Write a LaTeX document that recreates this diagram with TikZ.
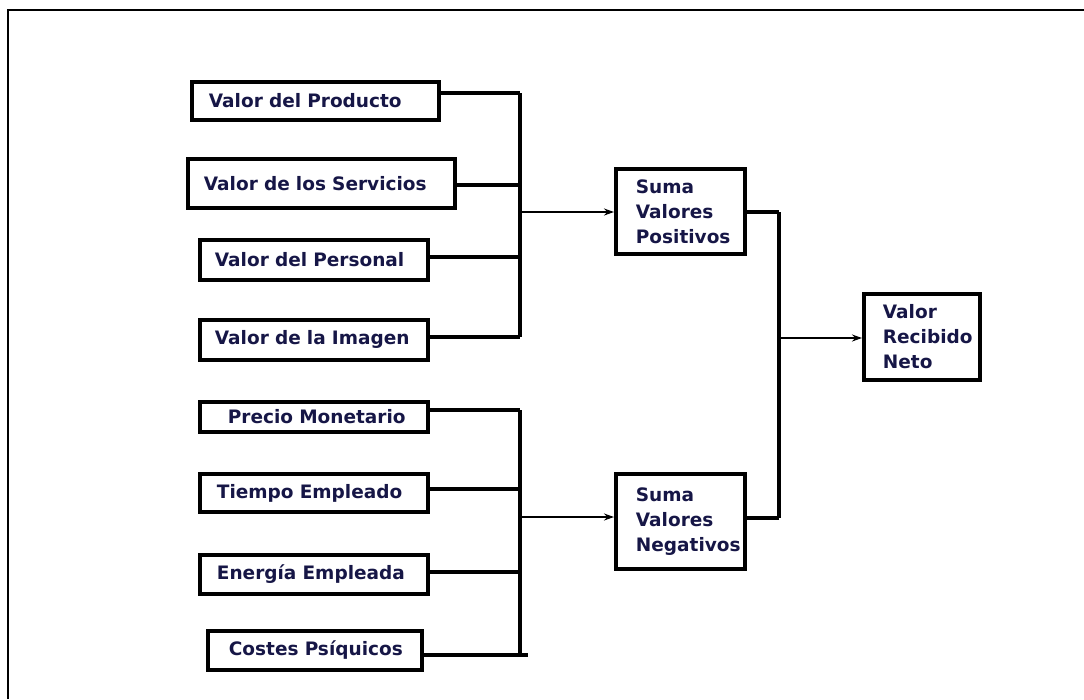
\documentclass[tikz,border=0pt]{standalone}
\usepackage{fontspec}
\setmainfont{DejaVu Sans}[BoldFont={DejaVu Sans Bold}]
\usetikzlibrary{arrows.meta}
\definecolor{txtnavy}{RGB}{22,22,70}
\begin{document}
\begin{tikzpicture}[x=1pt,y=-1pt,
  box/.style={draw, line width=3.8pt, rectangle, anchor=north west, inner ysep=0pt,
    align=left, text=txtnavy, font={\fontsize{18.5}{25}\selectfont\bfseries}},
  bus/.style={line width=4.2pt},
  link/.style={line width=3.2pt},
  arr/.style={line width=1.8pt, -{Stealth[length=10pt,width=7pt]}},
  frame/.style={line width=2.5pt}
]
\useasboundingbox (0,0) rectangle (1084,699);
% outer frame (top and left only)
\coordinate (fl) at (8,699);
\coordinate (fc) at (8,10);
\coordinate (fr) at (1084,10);
\draw[frame] (fl) -- (fc) -- (fr);

% positive inputs
\node[box, inner xsep=17pt, text width=213pt, minimum height=38pt] (p1) at (190,80) {\mbox{Valor del Producto}};
\node[box, inner xsep=16pt, text width=235pt, minimum height=49pt] (p2) at (186,157) {\mbox{Valor de los Servicios}};
\node[box, inner xsep=15pt, text width=198pt, minimum height=40pt] (p3) at (198,238) {\mbox{Valor del Personal}};
\node[box, inner xsep=15pt, text width=198pt, minimum height=40pt] (p4) at (198,318) {\mbox{Valor de la Imagen}};

% negative inputs
\node[box, inner xsep=28pt, text width=172pt, minimum height=30pt] (n1) at (198,400) {\mbox{Precio Monetario}};
\node[box, inner xsep=17pt, text width=194pt, minimum height=38pt] (n2) at (198,472) {\mbox{Tiempo Empleado}};
\node[box, inner xsep=17pt, text width=194pt, minimum height=39pt] (n3) at (198,553) {\mbox{Energía Empleada}};
\node[box, inner xsep=21pt, text width=172pt, minimum height=39pt] (n4) at (206,629) {\mbox{Costes Psíquicos}};

% sums
\node[box, inner xsep=20pt, text width=89pt, minimum height=85pt] (sp) at (614,167) {Suma\\Valores\\Positivos};
\node[box, inner xsep=20pt, text width=89pt, minimum height=95pt] (sn) at (614,472) {Suma\\Valores\\Negativos};
\node[box, inner xsep=19pt, text width=78pt, minimum height=86pt] (vr) at (862,292) {Valor\\Recibido\\Neto};

% bus 1
\coordinate (b1a) at (520,93);
\coordinate (b1b) at (520,185);
\coordinate (b1c) at (520,257);
\coordinate (b1d) at (520,337);
\coordinate (b1o) at (520,212);
\draw[bus] (b1a) -- (b1d);
\draw[link] (p1.east|-b1a) -- (b1a);
\draw[link] (p2.east|-b1b) -- (b1b);
\draw[link] (p3.east|-b1c) -- (b1c);
\draw[link] (p4.east|-b1d) -- (b1d);
\draw[arr] (b1o) -- (b1o-|sp.west);

% bus 2
\coordinate (b2a) at (520,410);
\coordinate (b2b) at (520,489);
\coordinate (b2c) at (520,572);
\coordinate (b2d) at (520,655);
\coordinate (b2e) at (528,655);
\coordinate (b2o) at (520,517);
\draw[bus] (b2a) -- (b2d);
\draw[link] (n1.east|-b2a) -- (b2a);
\draw[link] (n2.east|-b2b) -- (b2b);
\draw[link] (n3.east|-b2c) -- (b2c);
\draw[link] (n4.east|-b2d) -- (b2e);
\draw[arr] (b2o) -- (b2o-|sn.west);

% bus 3
\coordinate (b3a) at (779,212);
\coordinate (b3b) at (779,518);
\coordinate (b3o) at (779,338);
\draw[bus] (b3a) -- (b3b);
\draw[link] (sp.east|-b3a) -- (b3a);
\draw[link] (sn.east|-b3b) -- (b3b);
\draw[arr] (b3o) -- (b3o-|vr.west);
\end{tikzpicture}
\end{document}
